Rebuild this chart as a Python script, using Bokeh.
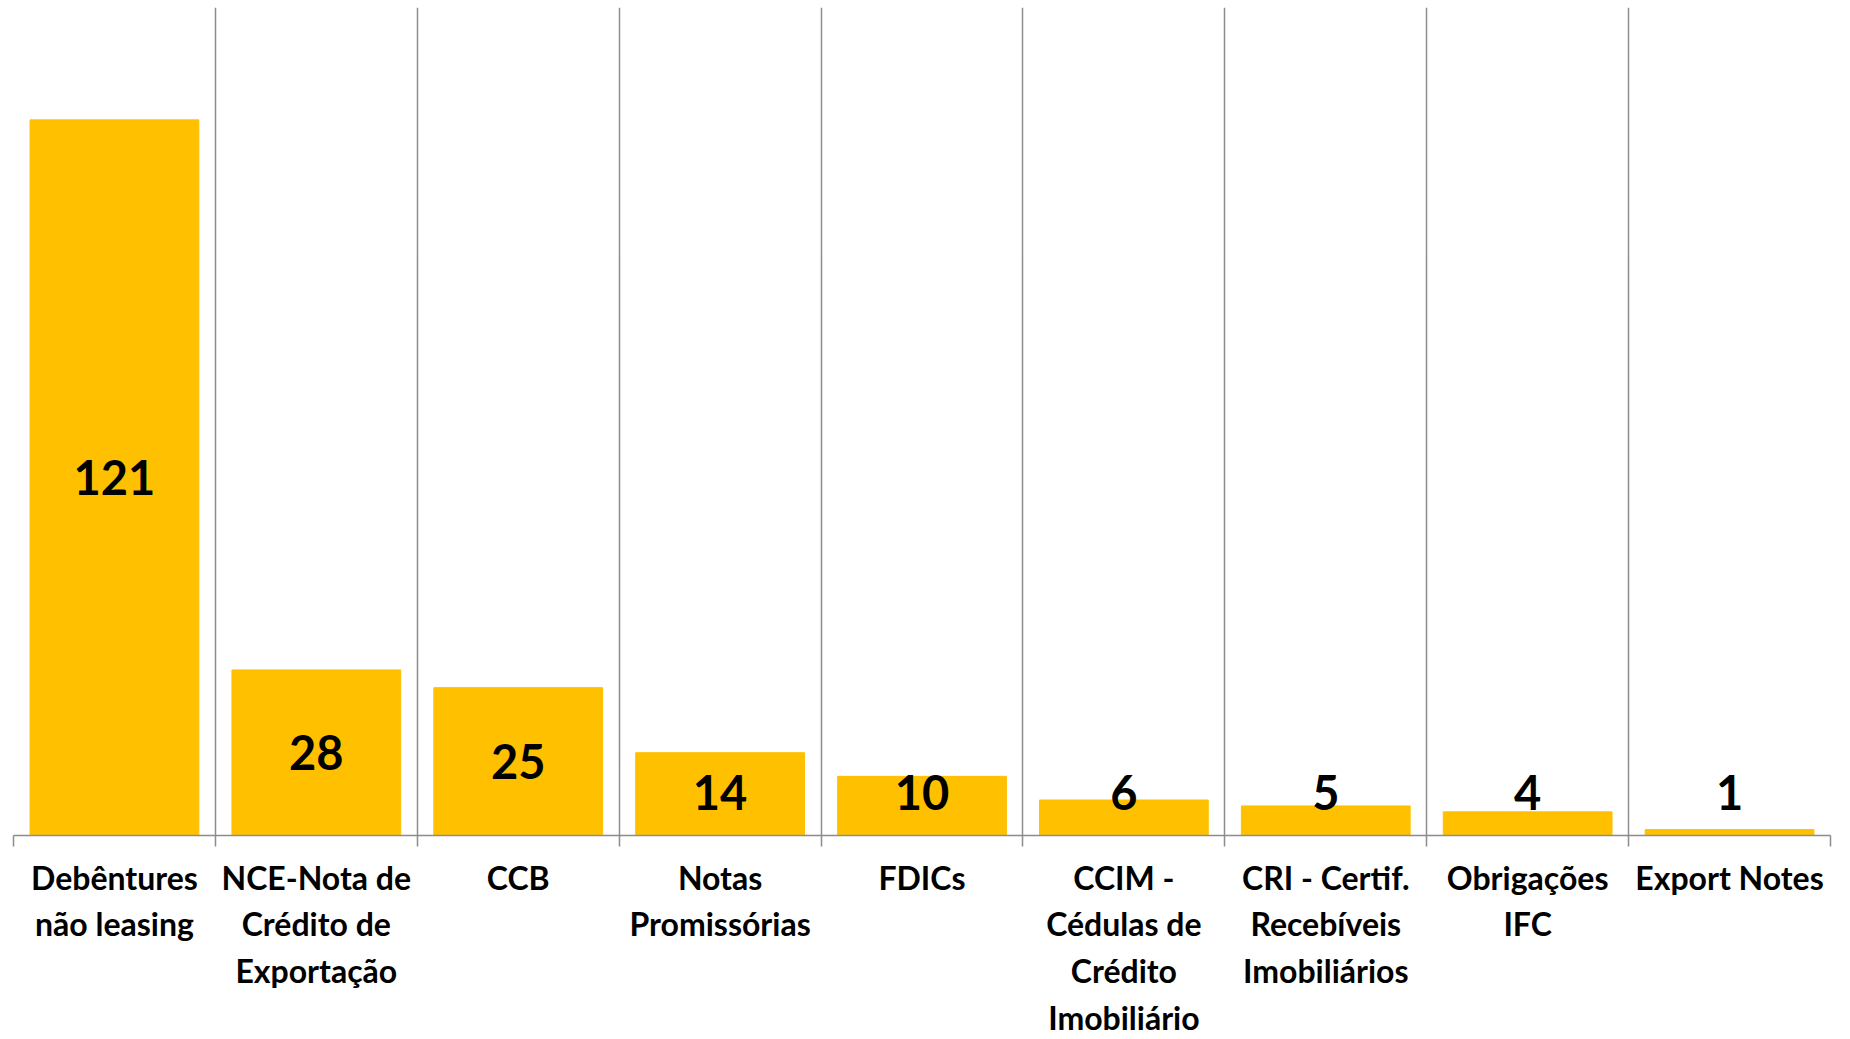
import numpy as np
from bokeh.plotting import figure
from bokeh.models import FixedTicker, Range1d, ColumnDataSource
from bokeh.core.properties import value
from bokeh.embed import file_html
from bokeh.resources import INLINE

categories = [
    "Debêntures\nnão leasing",
    "NCE-Nota de\nCrédito de\nExportação",
    "CCB",
    "Notas\nPromissórias",
    "FDICs",
    "CCIM -\nCédulas de\nCrédito\nImobiliário",
    "CRI - Certif.\nRecebíveis\nImobiliários",
    "Obrigações\nIFC",
    "Export Notes",
]
counts = [121, 28, 25, 14, 10, 6, 5, 4, 1]

n = len(categories)
centers = np.arange(n) + 0.5
boundaries = list(range(n + 1))
vals = np.array(counts, dtype=float)
label_y = np.maximum(vals / 2.0, 7.25)

src = ColumnDataSource(dict(x=centers, top=vals, ly=label_y, txt=[str(c) for c in counts]))

FONT = "Lato"

p = figure(width=1844, height=1039, output_backend="svg", toolbar_location=None,
           x_range=Range1d(0, n), y_range=Range1d(0, 140),
           min_border_left=13, min_border_right=14, min_border_top=7, min_border_bottom=0)
p.outline_line_color = None
p.background_fill_color = "white"
p.border_fill_color = "white"

p.vbar(x="x", top="top", width=0.836, bottom=0, color="#FFC000", source=src)
p.text(x="x", y="ly", text="txt", source=src, text_align="center", text_baseline="middle",
       text_font=value(FONT), text_font_style="bold", text_font_size="47px", text_color="black")

p.yaxis.visible = False
p.ygrid.grid_line_color = None

p.xgrid.ticker = FixedTicker(ticks=boundaries)
p.xgrid.grid_line_color = "#8c8c8c"
p.xgrid.grid_line_width = 1.5

ax = p.xaxis[0]
ax.ticker = FixedTicker(ticks=list(centers), minor_ticks=boundaries)
ax.major_label_overrides = {float(c): lab for c, lab in zip(centers, categories)}
ax.major_tick_line_color = None
ax.major_tick_in = 0
ax.major_tick_out = 0
ax.minor_tick_in = 0
ax.minor_tick_out = 11
ax.minor_tick_line_color = "#8c8c8c"
ax.minor_tick_line_width = 1.5
ax.axis_line_color = "#8c8c8c"
ax.axis_line_width = 1.5
ax.major_label_standoff = 11
ax.major_label_orientation = "horizontal"
ax.major_label_text_font = FONT
ax.major_label_text_font_style = "bold"
ax.major_label_text_font_size = "32px"
ax.major_label_text_color = "black"
ax.major_label_text_align = "center"

open("out.html", "w").write(file_html(p, INLINE))
